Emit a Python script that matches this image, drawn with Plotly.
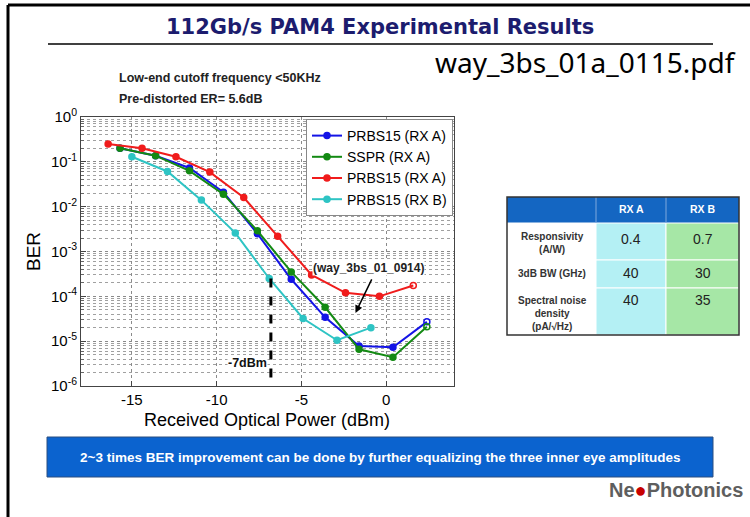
import plotly.graph_objects as go

# Données (BER vs puissance optique reçue)
power_prbs_a = [-15.7, -13.6, -11.6, -9.6, -7.6, -5.6, -3.6, -1.6, 0.4, 2.4]
ber_prbs_a = [0.20, 0.137, 0.073, 0.021, 0.0025, 2.4e-4, 3.4e-5, 7.8e-6, 7.3e-6, 2.7e-5]

power_sspr_a = [-15.7, -13.6, -11.6, -9.6, -7.6, -5.6, -3.6, -1.6, 0.4, 2.4]
ber_sspr_a = [0.20, 0.137, 0.063, 0.019, 0.0029, 3.5e-4, 5.7e-5, 6.6e-6, 4.4e-6, 2.1e-5]

power_prbs_a2 = [-16.4, -14.4, -12.4, -10.4, -8.4, -6.4, -4.4, -2.4, -0.4, 1.6]
ber_prbs_a2 = [0.25, 0.20, 0.13, 0.059, 0.016, 0.0022, 3.0e-4, 1.2e-4, 1.0e-4, 1.75e-4]

power_prbs_b = [-15.0, -12.9, -10.9, -8.9, -6.9, -4.9, -2.9, -0.9]
ber_prbs_b = [0.13, 0.061, 0.014, 0.0026, 2.5e-4, 3.2e-5, 1.05e-5, 2.0e-5]

series_names = ["PRBS15 (RX A)", "SSPR (RX A)", "PRBS15 (RX A)", "PRBS15 (RX B)"]
series_colors = ["#1414e6", "#138a13", "#f01c1c", "#2ec4c4"]

cutoff_power = -6.8
cutoff_ber = [2.5e-4, 1e-6]

y_tick_vals = [1e-6, 1e-5, 1e-4, 1e-3, 1e-2, 1e-1, 1]
y_tick_text = ["10<sup>-6</sup>", "10<sup>-5</sup>", "10<sup>-4</sup>", "10<sup>-3</sup>",
               "10<sup>-2</sup>", "10<sup>-1</sup>", "10<sup>0</sup>"]
x_tick_vals = [-15, -10, -5, 0]

# Tableau des récepteurs
table_header = ["", "RX A", "RX B"]
table_rows = ["Responsivity<br>(A/W)", "3dB BW (GHz)", "Spectral noise<br>density<br>(pA/√Hz)"]
rx_a_values = ["0.4", "40", "40"]
rx_b_values = ["0.7", "30", "35"]

W, H = 750, 517


def px(x):
    return x / W


def py(y):
    return 1 - y / H


ARIAL = "Liberation Sans, Arial"

fig = go.Figure()

all_series = [
    (power_prbs_a, ber_prbs_a),
    (power_sspr_a, ber_sspr_a),
    (power_prbs_a2, ber_prbs_a2),
    (power_prbs_b, ber_prbs_b),
]
open_last = [True, True, True, False]

for (xs, ys), name, color, op in zip(all_series, series_names, series_colors, open_last):
    symbols = ["circle"] * len(xs)
    if op:
        symbols[-1] = "circle-open"
    fig.add_trace(go.Scatter(
        x=xs, y=ys, name=name, mode="lines+markers",
        line=dict(color=color, width=2),
        marker=dict(color=color, size=6, symbol=symbols, line=dict(color=color, width=1.5)),
    ))

# Ligne pointillée de coupure
fig.add_trace(go.Scatter(
    x=[cutoff_power, cutoff_power], y=cutoff_ber, mode="lines",
    line=dict(color="black", width=3, dash="dash"), showlegend=False,
))

minor_vals = [k * 10 ** e for e in range(-6, 0) for k in range(2, 10)]

fig.update_layout(
    width=W, height=H,
    margin=dict(l=0, r=0, t=0, b=0, autoexpand=False),
    paper_bgcolor="white",
    plot_bgcolor="white",
    font=dict(family=ARIAL, color="black"),
    xaxis=dict(
        domain=[px(81), px(454)], range=[-18, 4], automargin=False,
        tickvals=x_tick_vals, ticktext=["-15", "-10", "-5", "0"],
        tickfont=dict(size=15, family=ARIAL),
        showline=True, linecolor="#444", linewidth=1, mirror=True,
        ticks="inside", ticklen=5, tickcolor="#444",
        showgrid=True, gridcolor="#8a8a8a", griddash="dot", gridwidth=1,
        zeroline=False,
    ),
    yaxis=dict(
        domain=[py(386), py(117)], type="log", range=[-6, 0], automargin=False,
        tickvals=y_tick_vals, ticktext=y_tick_text,
        tickfont=dict(size=15, family=ARIAL),
        showline=True, linecolor="#444", linewidth=1, mirror=True,
        ticks="inside", ticklen=5, tickcolor="#444",
        showgrid=True, gridcolor="#8a8a8a", griddash="dot", gridwidth=1,
        minor=dict(tickvals=minor_vals, ticks="inside", ticklen=3, tickcolor="#666",
                   showgrid=True, gridcolor="#a0a0a0", griddash="dot", gridwidth=1),
        zeroline=False,
    ),
    legend=dict(
        x=px(453), y=py(119), xanchor="right", yanchor="top",
        bgcolor="white", bordercolor="#888", borderwidth=1,
        font=dict(size=14, family=ARIAL, color="black"),
        itemwidth=30, tracegroupgap=0,
    ),
    showlegend=True,
)

shapes = [
    # bordures de la diapo
    dict(type="line", xref="paper", yref="paper", x0=px(8), x1=px(750), y0=py(5), y1=py(5),
         line=dict(color="black", width=3)),
    dict(type="line", xref="paper", yref="paper", x0=px(8), x1=px(8), y0=py(5), y1=py(517),
         line=dict(color="black", width=3)),
    # soulignement du titre
    dict(type="line", xref="paper", yref="paper", x0=px(48), x1=px(713), y0=py(44), y1=py(44),
         line=dict(color="black", width=1.5)),
    # bandeau bleu
    dict(type="rect", xref="paper", yref="paper", x0=px(47), x1=px(713), y0=py(477), y1=py(437),
         fillcolor="#0b63cf", line=dict(color="#2a4f80", width=1)),
]

annotations = [
    dict(text="<b>112Gb/s PAM4 Experimental Results</b>", x=px(380), y=py(27),
         font=dict(size=21, family="DejaVu Sans", color="#1c1c6e")),
    dict(text="way_3bs_01a_0115.pdf", x=px(738), y=py(62), xanchor="right",
         font=dict(size=28, family="Noto Sans", color="black")),
    dict(text="<b>Low-end cutoff frequency <50KHz</b>", x=px(117), y=py(78), xanchor="left",
         font=dict(size=12.5, family=ARIAL, color="#222")),
    dict(text="<b>Pre-distorted ER= 5.6dB</b>", x=px(117), y=py(99), xanchor="left",
         font=dict(size=12.5, family=ARIAL, color="#222")),
    dict(text="BER", x=px(33), y=py(252), textangle=-90,
         font=dict(size=19, family=ARIAL, color="black")),
    dict(text="Received Optical Power (dBm)", x=px(267), y=py(420),
         font=dict(size=18, family=ARIAL, color="black")),
    dict(text="<b>-7dBm</b>", x=px(268), y=py(363), xanchor="right", bgcolor="white",
         font=dict(size=12.5, family=ARIAL, color="#111"), borderpad=0),
    dict(text="<b>(way_3bs_01_0914)</b>", x=px(368), y=py(268), bgcolor="white",
         font=dict(size=12, family=ARIAL, color="#222"), borderpad=0),
    dict(text="<b>2~3 times BER improvement can be done by further equalizing the three inner eye amplitudes</b>",
         x=px(380), y=py(457), font=dict(size=13.5, family=ARIAL, color="white")),
    dict(text="<b>Ne<span style='color:#c80000'>●</span>Photonics</b>", x=px(745), y=py(490),
         xanchor="right", font=dict(size=20, family=ARIAL, color="#5e5e5e")),
]
for a in annotations:
    a.setdefault("xref", "paper")
    a.setdefault("yref", "paper")
    a.setdefault("showarrow", False)
    a.setdefault("xanchor", "center")
    a.setdefault("yanchor", "middle")

# flèche vers le croisement des courbes
annotations.append(dict(
    x=-1.81, y=-4.37, ax=-0.81, ay=-3.59, xref="x", yref="y", axref="x", ayref="y",
    text="", showarrow=True, arrowhead=2, arrowsize=1, arrowwidth=1.5, arrowcolor="black",
))

# tableau
col_x = [507, 596, 666, 739]
row_y = [197, 223, 260, 288, 335]
col_fill = ["white", "#b4f0f4", "#a6e7a6"]
shapes.append(dict(type="rect", xref="paper", yref="paper", x0=px(col_x[0]), x1=px(col_x[3]),
                   y0=py(row_y[0]), y1=py(row_y[1]), fillcolor="#1466c2", line=dict(width=0)))
for c in range(3):
    for r in range(3):
        shapes.append(dict(type="rect", xref="paper", yref="paper",
                           x0=px(col_x[c]), x1=px(col_x[c + 1]),
                           y0=py(row_y[r + 1]), y1=py(row_y[r + 2]),
                           fillcolor=col_fill[c], line=dict(color="white", width=1)))
for c in (1, 2):
    shapes.append(dict(type="line", xref="paper", yref="paper", x0=px(col_x[c]), x1=px(col_x[c]),
                       y0=py(row_y[0]), y1=py(row_y[1]), line=dict(color="#7fa8dd", width=1)))
shapes.append(dict(type="rect", xref="paper", yref="paper", x0=px(col_x[0]), x1=px(col_x[3]),
                   y0=py(row_y[0]), y1=py(row_y[4]), line=dict(color="#333", width=1.5)))

for c in (1, 2):
    annotations.append(dict(text="<b>" + table_header[c] + "</b>", xref="paper", yref="paper",
                            x=px((col_x[c] + col_x[c + 1]) / 2), y=py(209), showarrow=False,
                            xanchor="center", yanchor="middle",
                            font=dict(size=10.5, family=ARIAL, color="white")))
label_y = [243, 273, 313]
value_y = [239, 273, 300]
for r in range(3):
    annotations.append(dict(text="<b>" + table_rows[r] + "</b>", xref="paper", yref="paper",
                            x=px(552), y=py(label_y[r]), showarrow=False,
                            xanchor="center", yanchor="middle",
                            font=dict(size=10, family=ARIAL, color="#333")))
    for c, vals in ((1, rx_a_values), (2, rx_b_values)):
        annotations.append(dict(text=vals[r], xref="paper", yref="paper",
                                x=px((col_x[c] + col_x[c + 1]) / 2), y=py(value_y[r]),
                                showarrow=False, xanchor="center", yanchor="middle",
                                font=dict(size=14, family=ARIAL, color="#222")))

fig.update_layout(shapes=shapes, annotations=annotations)

# pas de marge autour de la figure dans la page, pas de barre d'outils
fig.write_html("out.html", config={"displayModeBar": False},
               post_script="document.body.style.margin='0';")
